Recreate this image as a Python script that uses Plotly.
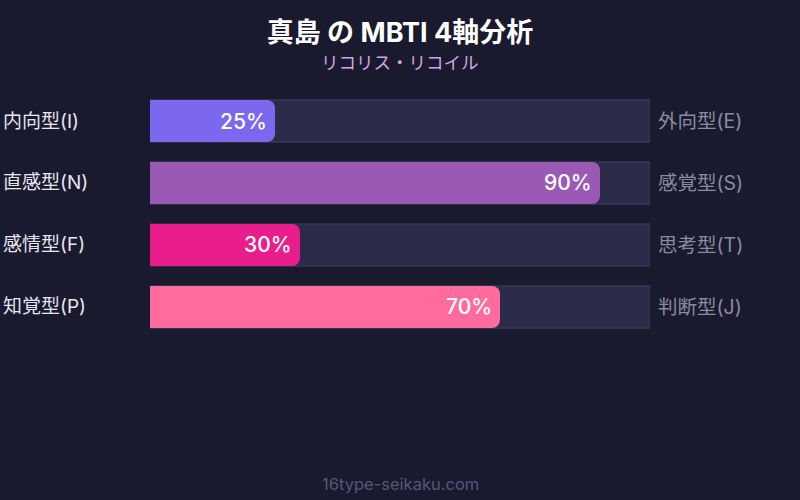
import plotly.graph_objects as go

# MBTI axis data (percent toward the left-hand type)
left_types = ["内向型(I)", "直感型(N)", "感情型(F)", "知覚型(P)"]
right_types = ["外向型(E)", "感覚型(S)", "思考型(T)", "判断型(J)"]
percents = [25, 90, 30, 70]
bar_colors = ["#7b68ee", "#9b59b6", "#e91e8c", "#ff6b9d"]

title_text = "真島 の MBTI 4軸分析"
subtitle_text = "リコリス・リコイル"
footer_text = "16type-seikaku.com"

FONT = "Inter, 'Noto Sans CJK JP', sans-serif"
BG = "#1a1a2e"

# first row at the top: use descending positions on a normal axis
n = len(left_types)
rows = [n - 1 - i for i in range(n)]
y_range = [n - 1 - 4.339 + 0.0, n - 1 + 0.5]

fig = go.Figure()

# background tracks (full 100%)
fig.add_trace(
    go.Bar(
        x=[100] * n,
        y=rows,
        orientation="h",
        width=0.68,
        marker=dict(color="#2c2c4a", line=dict(color="#40405f", width=1)),
        hoverinfo="skip",
    )
)

# filled part, on an overlaid axis so it is its own bar group
# (cornerradius is ignored when both traces share one axis in overlay mode)
fig.add_trace(
    go.Bar(
        x=percents,
        y=rows,
        yaxis="y2",
        orientation="h",
        width=0.68,
        marker=dict(color=bar_colors, line=dict(width=0), cornerradius=8),
        hoverinfo="skip",
    )
)

# percent labels at the end of each filled bar
for r, p in zip(rows, percents):
    fig.add_annotation(
        x=p, y=r, xref="x", yref="y",
        text=f"{p}%", showarrow=False,
        xanchor="right", xshift=-6,
        font=dict(family=FONT, size=21, color="#ffffff", weight=500),
    )

# left / right type labels
for r, lt, rt in zip(rows, left_types, right_types):
    fig.add_annotation(
        x=-0.298, y=r, xref="paper", yref="y",
        text=lt, showarrow=False, xanchor="left",
        font=dict(family=FONT, size=19, color="#e6e6f0"),
    )
    fig.add_annotation(
        x=1.012, y=r, xref="paper", yref="y",
        text=rt, showarrow=False, xanchor="left",
        font=dict(family=FONT, size=19.5, color="#8a8aa3"),
    )

# subtitle and footer (paper y is relative to the 300px plot area at 90..390)
fig.add_annotation(
    x=0.5, y=(390 - 63) / 300, xref="paper", yref="paper",
    yanchor="middle", text=subtitle_text, showarrow=False,
    font=dict(family=FONT, size=17.5, color="#d4a5e3"),
)
fig.add_annotation(
    x=0.5, y=(390 - 484) / 300, xref="paper", yref="paper",
    yanchor="middle", text=footer_text, showarrow=False,
    font=dict(family=FONT, size=16.5, color="#56567a"),
)

fig.update_layout(
    width=800,
    height=500,
    paper_bgcolor=BG,
    plot_bgcolor=BG,
    barmode="overlay",
    showlegend=False,
    margin=dict(l=150, r=150, t=90, b=110),
    title=dict(
        text=f"<b>{title_text}</b>",
        x=0.5, xanchor="center",
        y=1 - 33 / 500, yanchor="middle",
        font=dict(family=FONT, size=27, color="#ffffff"),
    ),
    xaxis=dict(range=[0, 100], visible=False, fixedrange=True),
    yaxis=dict(range=y_range, visible=False, fixedrange=True),
    yaxis2=dict(range=y_range, visible=False, fixedrange=True, overlaying="y"),
)

# drop the default page margin so the 800x500 figure fills the window
fig.write_html(
    "out.html",
    config={"displayModeBar": False},
    post_script="document.body.style.margin='0';document.body.style.background='%s';" % BG,
)
